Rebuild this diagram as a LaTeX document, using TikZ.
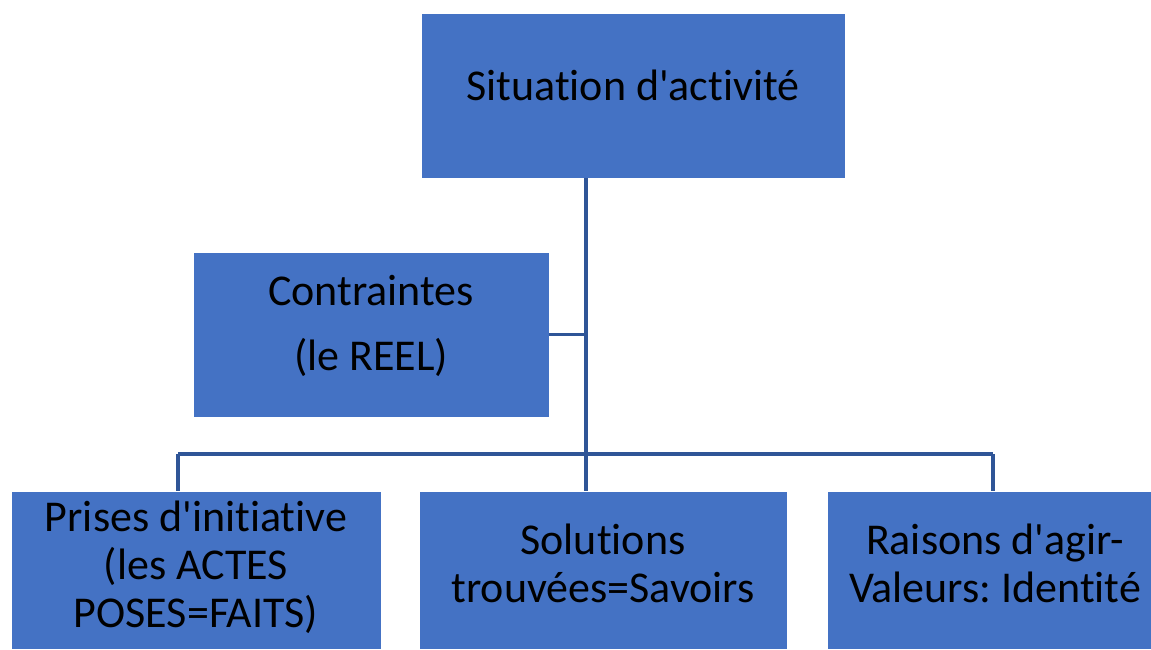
\documentclass[tikz,border=0pt]{standalone}
\usepackage{fontspec}
\setmainfont{Carlito}[Ligatures={CommonOff,TeXOff}]
\usepackage{tikz}
\frenchspacing

\definecolor{boxblue}{HTML}{4472C4}
\definecolor{linkblue}{HTML}{2F5597}

\tikzset{
	box/.style={rectangle, fill=boxblue, draw=white, line width=0.4pt, inner sep=2pt, align=center, text=black,
		font=\fontsize{22}{24}\selectfont, text height=15pt, text depth=10.5pt},
	link/.style={draw=linkblue, line width=1.7pt}
}

\begin{document}
\begin{tikzpicture}[x=0.5pt,y=-0.5pt]

	\clip (0,0) rectangle (1151,649);

	% boxes
	\node[box, minimum width=212pt, minimum height=82.5pt] (situation) at (633,95.5) {Situation d'activit\'e};
	\node[box, minimum width=178pt, minimum height=82.5pt, text height=50pt, text depth=14.5pt] (contraintes) at (371,334.5) {Contraintes\\[8.5pt](le REEL)};
	\node[box, minimum width=185pt, minimum height=79pt, text height=64pt, text depth=7pt] (prises) at (196,570) {Prises d'initiative\\(les ACTES\\POSES=FAITS)};
	\node[box, minimum width=184pt, minimum height=79pt, text height=45pt, text depth=13pt] (solutions) at (603,570) {Solutions\\trouv\'ees=Savoirs};
	\node[box, minimum width=168pt, minimum height=79pt, text height=45pt, text depth=13pt] (raisons) at (995,570) {Raisons d'agir-\\Valeurs: Identit\'e};

	% junctions
	\coordinate (j1) at (178,454);
	\coordinate (j2) at (586,454);
	\coordinate (j3) at (993,454);

	\draw[link] (situation.south -| j2) -- (j2);
	\draw[link] (contraintes.east) -- (contraintes.east -| j2);
	\draw[link] (j1) -- (j3);
	\draw[link] (j1) -- (prises.north -| j1);
	\draw[link] (j2) -- (solutions.north -| j2);
	\draw[link] (j3) -- (raisons.north -| j3);

\end{tikzpicture}
\end{document}
